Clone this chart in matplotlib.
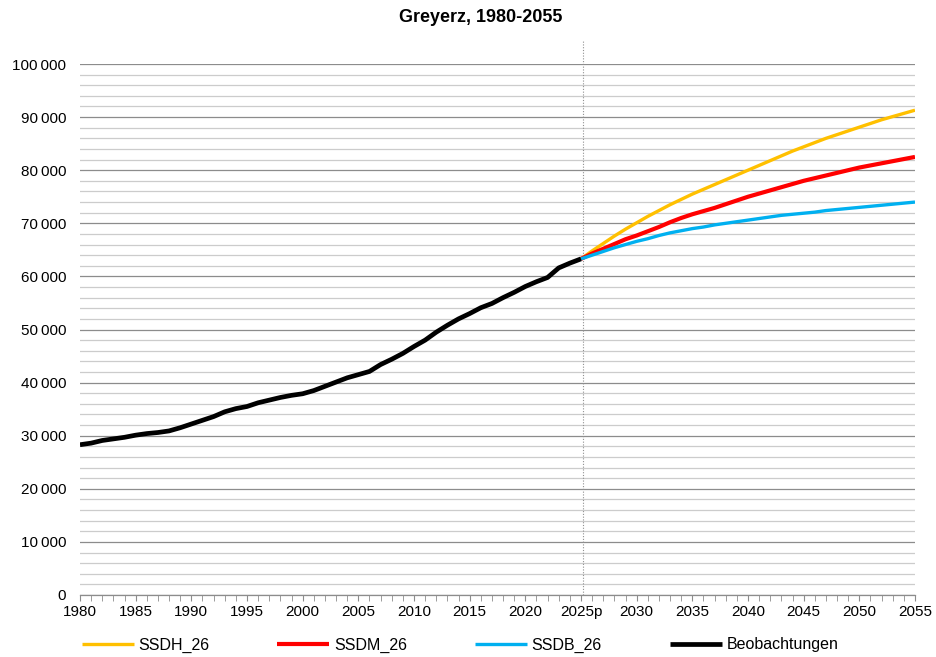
import matplotlib.pyplot as plt
from matplotlib.ticker import MultipleLocator, FuncFormatter

plt.rcParams['font.family'] = ['Liberation Sans', 'DejaVu Sans']

# Beobachtungen 1980-2025 (Einwohner)
obs_years = list(range(1980, 2026))
obs_values = [
    28300, 28600, 29100, 29400, 29700, 30100, 30400, 30600, 30900, 31500,
    32200, 32900, 33600, 34500, 35100, 35500, 36200, 36700, 37200, 37600,
    37900, 38500, 39300, 40100, 40900, 41500, 42100, 43400, 44400, 45500,
    46800, 48000, 49500, 50800, 52000, 53000, 54100, 54900, 56000, 57000,
    58100, 59000, 59800, 61600, 62500, 63300,
]

# Szenarien 2025-2055
proj_years = list(range(2025, 2056))
ssdh = [
    63300, 64800, 66200, 67600, 68900, 70100, 71300, 72400, 73500, 74500,
    75500, 76400, 77300, 78200, 79100, 80000, 80900, 81800, 82700, 83600,
    84400, 85200, 86000, 86700, 87400, 88100, 88800, 89500, 90100, 90700,
    91300,
]
ssdm = [
    63300, 64300, 65200, 66100, 67000, 67700, 68500, 69300, 70200, 71000,
    71700, 72300, 72900, 73600, 74300, 75000, 75600, 76200, 76800, 77400,
    78000, 78500, 79000, 79500, 80000, 80500, 80900, 81300, 81700, 82100,
    82500,
]
ssdb = [
    63300, 64000, 64700, 65400, 66000, 66600, 67100, 67700, 68200, 68600,
    69000, 69300, 69700, 70000, 70300, 70600, 70900, 71200, 71500, 71700,
    71900, 72100, 72400, 72600, 72800, 73000, 73200, 73400, 73600, 73800,
    74000,
]

fig = plt.figure(figsize=(9.36, 6.57), dpi=100)
ax = fig.add_axes([80 / 936, 1 - 595 / 657, 835 / 936, 531 / 657])

ax.plot(proj_years, ssdh, color='#FFC000', lw=2.4, label='SSDH_26', solid_capstyle='butt')
ax.plot(proj_years, ssdm, color='#FF0000', lw=3.0, label='SSDM_26', solid_capstyle='butt')
ax.plot(proj_years, ssdb, color='#00B0F0', lw=2.4, label='SSDB_26', solid_capstyle='butt')
ax.plot(obs_years, obs_values, color='black', lw=3.4, label='Beobachtungen', solid_capstyle='butt')

# senkrechte Trennlinie beim Prognosebeginn
ax.vlines(2025.2, 0, 104600, colors='#909090', linestyles=(0, (1, 1.5)), lw=0.8, clip_on=False, zorder=1)

ax.set_xlim(1980, 2055)
ax.set_ylim(0, 100000)

ax.xaxis.set_major_locator(MultipleLocator(5))
ax.xaxis.set_minor_locator(MultipleLocator(1))
ax.xaxis.set_major_formatter(FuncFormatter(lambda v, p: '2025p' if int(round(v)) == 2025 else f'{int(round(v))}'))
ax.yaxis.set_major_locator(MultipleLocator(10000))
ax.yaxis.set_minor_locator(MultipleLocator(2000))
ax.yaxis.set_major_formatter(FuncFormatter(lambda v, p: f'{int(v):,}'.replace(',', '\u2009')))

ax.grid(axis='y', which='major', color='#8c8c8c', lw=0.9, zorder=0)
ax.grid(axis='y', which='minor', color='#cccccc', lw=0.9, zorder=0)
ax.set_axisbelow(True)

for s in ['top', 'right', 'left']:
    ax.spines[s].set_visible(False)
ax.spines['bottom'].set_color('#8c8c8c')
ax.spines['bottom'].set_linewidth(0.9)

ax.tick_params(axis='y', which='both', length=0, pad=10, labelsize=11)
ax.tick_params(axis='x', which='both', direction='out', length=4, color='#8c8c8c', labelsize=11, pad=3)

fig.text(481 / 936, 1 - 18 / 657, 'Greyerz, 1980-2055', ha='center', va='center', fontsize=13, fontweight='bold')

fig.legend(loc='center', bbox_to_anchor=(460 / 936, 1 - 645 / 657), ncol=4, frameon=False,
           fontsize=11.5, handlelength=3.25, handletextpad=0.3, columnspacing=4.25)

plt.savefig('out.png', dpi=100)
plt.close()
